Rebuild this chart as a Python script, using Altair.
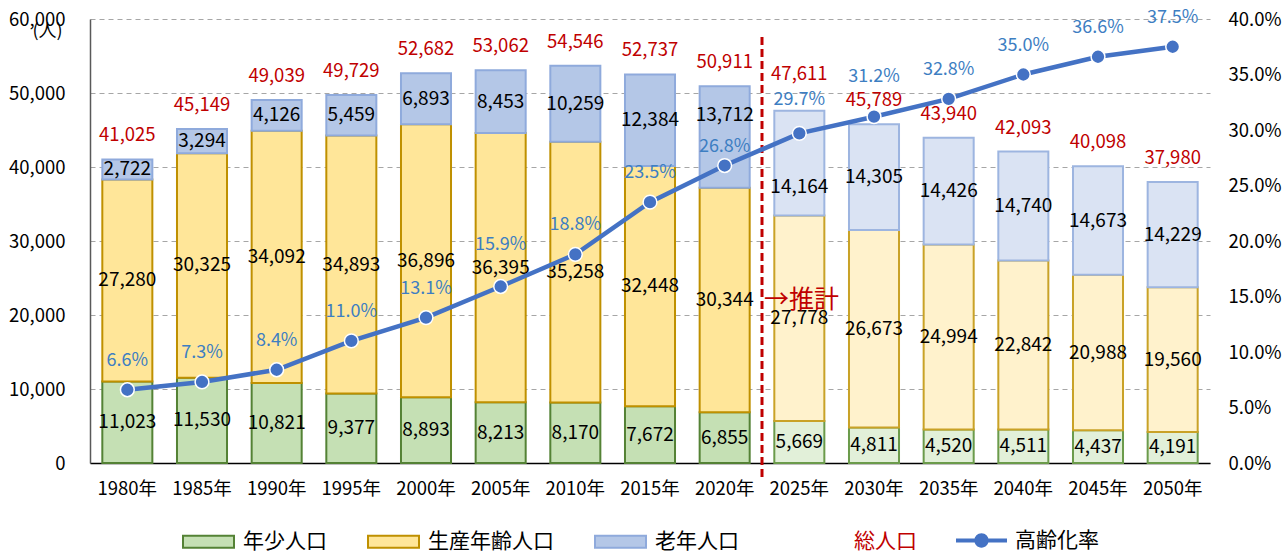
import altair as alt
import pandas as pd

# ---------------- data ----------------
years = ["1980年", "1985年", "1990年", "1995年", "2000年", "2005年", "2010年", "2015年",
         "2020年", "2025年", "2030年", "2035年", "2040年", "2045年", "2050年"]
youth = [11023, 11530, 10821, 9377, 8893, 8213, 8170, 7672, 6855, 5669, 4811, 4520, 4511, 4437, 4191]
working = [27280, 30325, 34092, 34893, 36896, 36395, 35258, 32448, 30344, 27778, 26673, 24994, 22842, 20988, 19560]
elderly = [2722, 3294, 4126, 5459, 6893, 8453, 10259, 12384, 13712, 14164, 14305, 14426, 14740, 14673, 14229]
totals = [41025, 45149, 49039, 49729, 52682, 53062, 54546, 52737, 50911, 47611, 45789, 43940, 42093, 40098, 37980]
aging_rate = [6.6, 7.3, 8.4, 11.0, 13.1, 15.9, 18.8, 23.5, 26.8, 29.7, 31.2, 32.8, 35.0, 36.6, 37.5]
categories = ["年少人口", "生産年齢人口", "老年人口"]
projection_start = "2025年"
total_name = "総人口"
rate_name = "高齢化率"
projection_text = "→推計"
y_unit = "(人)"

# ---------------- style ----------------
FONT = "Noto Sans CJK JP"
W, H = 1120, 444
STEP = W / len(years)
PI = 0.33
PO = PI / 2

proj_suffix = "（推計）"
key_domain = categories + [c + proj_suffix for c in categories]
fill_range = ["#C5E0B4", "#FFE699", "#B4C7E7", "#E2F0D9", "#FFF2CC", "#DAE3F3"]
stroke_range = ["#548235", "#BF9000", "#8FAADC", "#6B9B4B", "#C9A227", "#9DB5E0"]

# label nudges (pixels) – layout only
bar_label_dy = {("2020年", "老年人口"): -22, ("2025年", "老年人口"): 24}
total_label_dy = {"2025年": -37}
rate_label_dy = {"2005年": -42, "2020年": -19, "2025年": -33, "2030年": -40}

# ---------------- tables ----------------
proj_idx = years.index(projection_start)
seg_rows = []
tops = []
for i, y in enumerate(years):
    lo = 0
    for cat, vals in zip(categories, [youth, working, elderly]):
        v = vals[i]
        hi = lo + v
        seg_rows.append({
            "year": y, "cat": cat,
            "key": cat if i < proj_idx else cat + proj_suffix,
            "value": v, "lo": lo, "hi": hi, "mid": (lo + hi) / 2,
            "dy": bar_label_dy.get((y, cat), 0),
        })
        lo = hi
    tops.append(lo)
seg = pd.DataFrame(seg_rows)

tot = pd.DataFrame({"year": years, "total": totals, "top": tops, "series": total_name})
tot["dy"] = [total_label_dy.get(y, -24) for y in years]

rate = pd.DataFrame({"year": years, "rate": aging_rate, "series": rate_name})
rate["dy"] = [rate_label_dy.get(y, -29) for y in years]
rate["lab"] = [f"{r:.1f}%" for r in aging_rate]

xscale = alt.Scale(domain=years, paddingInner=PI, paddingOuter=PO)
x_axis = alt.Axis(title=None, labelAngle=0, ticks=False, domainColor="#000000",
                  domainWidth=1.5, labelPadding=16, labelFont=FONT, labelFontSize=18.5,
                  labelColor="#000000", grid=False)
X = alt.X("year:N", scale=xscale, sort=years, axis=x_axis)
Xn = X  # identical axis definition in every layer so the shared axis merges

lscale = alt.Scale(domain=[0, 60000], nice=False, zero=True)
rscale = alt.Scale(domain=[0, 40], nice=False, zero=True)

left_axis = alt.Axis(values=[0, 10000, 20000, 30000, 40000, 50000, 60000], format=",d",
                     domain=True, domainColor="#595959", domainWidth=1.5, ticks=False,
                     grid=True, gridDash=[5, 4], gridColor="#A6A6A6", gridWidth=1,
                     labelPadding=25, labelFont=FONT, labelFontSize=18.5, labelColor="#000000",
                     title=y_unit, titleAngle=0, titleX=-43, titleY=12, titleAlign="center",
                     titleBaseline="middle", titleFont=FONT, titleFontSize=18,
                     titleFontWeight="normal", titleColor="#000000")
right_axis = alt.Axis(orient="right", values=[0, 5, 10, 15, 20, 25, 30, 35, 40],
                      labelExpr="format(datum.value, '.1f') + '%'", domain=False, ticks=False,
                      grid=False, labelPadding=18, labelFont=FONT, labelFontSize=18.5,
                      labelColor="#000000", title=None)

RECT_PATH = "M-1,-0.235H1V0.235H-1Z"
LINE_PATH = ("M-1,-0.08H1V0.08H-1Z "
             "M-0.28,0A0.28,0.28 0 1,1 0.28,0A0.28,0.28 0 1,1 -0.28,0Z")
LEG_Y = 496
common_leg = dict(title=None, orient="none", legendY=LEG_Y, direction="horizontal", padding=0,
                  labelFont=FONT, labelFontSize=21, labelOffset=8, columnPadding=37,
                  symbolSize=2601)

bar_legend = alt.Legend(legendX=92, values=categories, labelColor="#000000",
                        symbolStrokeWidth=2, symbolType=RECT_PATH, **common_leg)
total_legend = alt.Legend(legendX=703, labelColor="#C00000", symbolOpacity=0,
                          symbolType=RECT_PATH, **common_leg)
rate_legend = alt.Legend(legendX=866, labelColor="#000000", symbolType=LINE_PATH,
                         symbolStrokeWidth=0, symbolFillColor="#4472C4", **common_leg)

layers = []

bars = alt.Chart(seg).mark_bar(strokeWidth=2).encode(
    x=X,
    y=alt.Y("hi:Q", scale=lscale, axis=left_axis),
    y2="lo:Q",
    fill=alt.Fill("key:N", scale=alt.Scale(domain=key_domain, range=fill_range), legend=bar_legend),
    stroke=alt.Stroke("key:N", scale=alt.Scale(domain=key_domain, range=stroke_range), legend=bar_legend),
)
layers.append(bars)

for dy, sub in seg.groupby("dy"):
    layers.append(alt.Chart(sub).mark_text(font=FONT, fontSize=19, color="#000000",
                                           baseline="middle", dy=float(dy)).encode(
        x=Xn, y=alt.Y("mid:Q", scale=lscale, axis=None),
        text=alt.Text("value:Q", format=",d")))

first_total = True
for dy, sub in tot.groupby("dy"):
    enc = dict(x=Xn, y=alt.Y("top:Q", scale=lscale, axis=None),
               text=alt.Text("total:Q", format=",d"))
    if first_total:
        enc["fill"] = alt.Fill("series:N", scale=alt.Scale(domain=[total_name], range=["#C00000"]),
                               legend=total_legend)
        layers.append(alt.Chart(sub).mark_text(font=FONT, fontSize=18.5, baseline="middle",
                                               dy=float(dy)).encode(**enc))
        first_total = False
    else:
        layers.append(alt.Chart(sub).mark_text(font=FONT, fontSize=18.5, baseline="middle",
                                               color="#C00000", dy=float(dy)).encode(**enc))

last_past = years[proj_idx - 1]
marker = pd.DataFrame({"year": [last_past], "v": [22000], "label": [projection_text]})
layers.append(alt.Chart(marker).mark_rule(color="#C00000", strokeWidth=3, strokeDash=[8, 4],
                                          xOffset=STEP / 2).encode(
    x=Xn, y=alt.value(18), y2=alt.value(H + 17)))
layers.append(alt.Chart(marker).mark_text(font=FONT, fontSize=25, color="#C00000", align="left",
                                          baseline="middle", xOffset=STEP / 2 + 2).encode(
    x=Xn, y=alt.Y("v:Q", scale=lscale, axis=None), text="label:N"))

layers.append(alt.Chart(rate).mark_line(color="#4472C4", strokeWidth=4.5).encode(
    x=Xn, y=alt.Y("rate:Q", scale=rscale, axis=right_axis)))
layers.append(alt.Chart(rate).mark_circle(size=190, opacity=1, stroke="#FFFFFF",
                                          strokeWidth=1.5).encode(
    x=Xn, y=alt.Y("rate:Q", scale=rscale, axis=None),
    fill=alt.Fill("series:N", scale=alt.Scale(domain=[rate_name], range=["#4472C4"]),
                  legend=rate_legend)))
for dy, sub in rate.groupby("dy"):
    layers.append(alt.Chart(sub).mark_text(font=FONT, fontSize=18, color="#3D7EC2",
                                           baseline="middle", dy=float(dy)).encode(
        x=Xn, y=alt.Y("rate:Q", scale=rscale, axis=None), text="lab:N"))

chart = alt.layer(*layers).resolve_scale(
    y="independent", fill="independent", stroke="independent"
).properties(
    width=W, height=H,
    padding={"left": 90, "top": 19, "right": 78, "bottom": 91},
    autosize=alt.AutoSizeParams(type="none"),
    background="#FFFFFF",
).configure_view(stroke=None)

chart.save("out.html", embed_options={"renderer": "svg", "actions": False})
